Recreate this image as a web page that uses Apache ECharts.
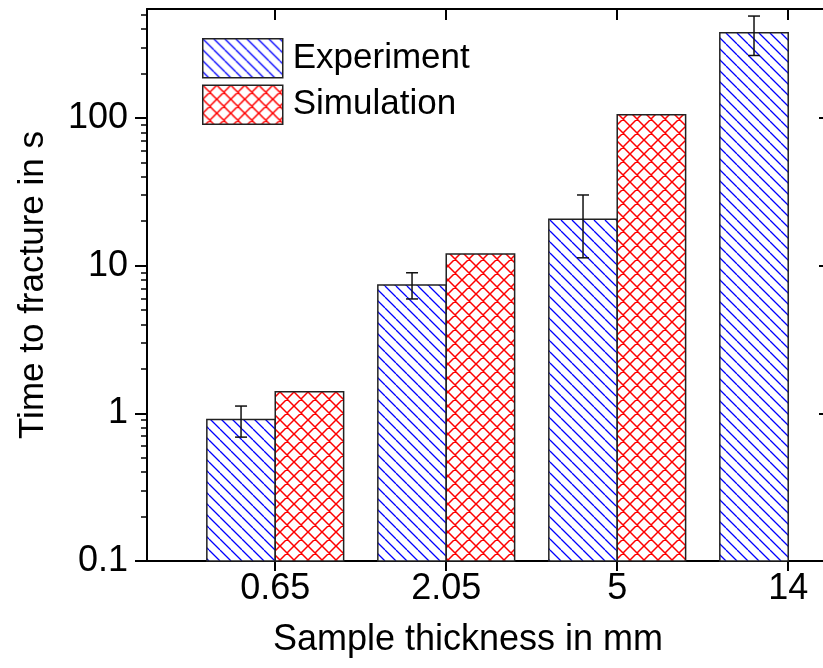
<!DOCTYPE html>
<html>
<head>
<meta charset="utf-8">
<script src="https://cdn.jsdelivr.net/npm/echarts@6/dist/echarts.min.js"></script>
<style>
  html, body { margin: 0; padding: 0; background: #fff; }
  #chart { width: 823px; height: 668px; }
</style>
</head>
<body>
<div id="chart"></div>
<script>
// sample thickness categories (placed at x = 1..4 on a value axis)
const thickness = ['0.65', '2.05', '5', '14'];
const xPos = [1, 2, 3, 4];
const experiment = [0.91, 7.4, 20.6, 377];
const expErrLow = [0.69, 5.95, 11.3, 265];
const expErrHigh = [1.12, 8.95, 30.1, 490];
const simulation = [1.40, 12.0, 105, null];

const yMajor = [0.1, 1, 10, 100];
const yMinor = [0.2, 0.3, 0.4, 0.5, 0.6, 0.7, 0.8, 0.9,
                2, 3, 4, 5, 6, 7, 8, 9,
                20, 30, 40, 50, 60, 70, 80, 90,
                200, 300, 400, 500];

const Y_MIN = 0.1, Y_MAX = 547;
const X_MIN = 0.25, X_MAX = 4.221;
const BAR_UNITS = 0.4; // width of one bar in x units
const FONT = 'Liberation Sans, Arial, sans-serif';

// hatch patterns
function hatch(size, color, width, cross) {
  const c = document.createElement('canvas');
  c.width = size; c.height = size;
  const g = c.getContext('2d');
  g.fillStyle = '#fff';
  g.fillRect(0, 0, size, size);
  g.strokeStyle = color;
  g.lineWidth = width;
  g.beginPath();
  for (let k = -1; k <= 1; k++) {
    g.moveTo(k * size, 0); g.lineTo(k * size + size, size);
    if (cross) { g.moveTo(k * size + size, 0); g.lineTo(k * size, size); }
  }
  g.stroke();
  return c;
}
const bluePat = { image: hatch(11, '#0000ff', 1.3, false), repeat: 'repeat' };
const redPat = { image: hatch(14, '#ff0000', 1.5, true), repeat: 'repeat' };

const expData = xPos.map((x, i) => [x, experiment[i]]);
const simData = xPos.map((x, i) => [x, simulation[i]]).filter(d => d[1] != null);
const errData = xPos.map((x, i) => [x, expErrLow[i], expErrHigh[i]]);

function barRenderer(side, pattern) {
  return function (params, api) {
    const x = api.value(0), v = api.value(1);
    const top = api.coord([x, v]);
    const base = api.coord([x, Y_MIN]);
    const w = api.size([BAR_UNITS, 0])[0];
    return {
      type: 'rect',
      shape: { x: side < 0 ? top[0] - w : top[0], y: top[1], width: w, height: base[1] - top[1] },
      style: { fill: pattern, stroke: '#222', lineWidth: 1.5 }
    };
  };
}

function errRenderer(params, api) {
  const x = api.value(0);
  const w = api.size([BAR_UNITS, 0])[0];
  const lo = api.coord([x, api.value(1)]);
  const hi = api.coord([x, api.value(2)]);
  const cx = lo[0] - w / 2;
  const cap = 6;
  const st = { stroke: '#111', lineWidth: 1.5 };
  return {
    type: 'group',
    children: [
      { type: 'line', shape: { x1: cx, y1: lo[1], x2: cx, y2: hi[1] }, style: st },
      { type: 'line', shape: { x1: cx - cap, y1: lo[1], x2: cx + cap, y2: lo[1] }, style: st },
      { type: 'line', shape: { x1: cx - cap, y1: hi[1], x2: cx + cap, y2: hi[1] }, style: st }
    ]
  };
}

const axisLine = () => ({ show: true, lineStyle: { color: '#000', width: 2 } });
const labelStyle = { color: '#000', fontSize: 36, fontFamily: FONT };

const chart = echarts.init(document.getElementById('chart'), null, { renderer: 'canvas' });
chart.setOption({
  animation: false,
  backgroundColor: '#fff',
  grid: { left: 147, top: 9, right: -3, bottom: 107, outerBoundsMode: 'none' },
  legend: {
    orient: 'vertical', left: 197, top: 33,
    itemWidth: 80, itemHeight: 39, itemGap: 6,
    icon: 'rect',
    textStyle: { color: '#000', fontSize: 35, fontFamily: FONT, padding: [0, 0, 0, 5] },
    data: [
      { name: 'Experiment', itemStyle: { color: bluePat, borderColor: '#222', borderWidth: 1.5 } },
      { name: 'Simulation', itemStyle: { color: redPat, borderColor: '#222', borderWidth: 1.5 } }
    ],
    selectedMode: false
  },
  xAxis: [
    {
      type: 'value', position: 'bottom', min: X_MIN, max: X_MAX,
      axisLine: axisLine(), splitLine: { show: false },
      axisTick: { show: true, customValues: xPos, length: 10, lineStyle: { color: '#000', width: 2 } },
      axisLabel: { customValues: xPos, margin: 10, ...labelStyle,
        formatter: v => thickness[xPos.indexOf(Math.round(v))] || '' }
    },
    {
      type: 'value', position: 'top', min: X_MIN, max: X_MAX,
      axisLine: axisLine(), splitLine: { show: false },
      axisTick: { show: true, inside: true, customValues: xPos, length: 11, lineStyle: { color: '#000', width: 2 } },
      axisLabel: { show: false }
    }
  ],
  yAxis: [
    {
      type: 'log', position: 'left', min: Y_MIN, max: Y_MAX,
      axisLine: axisLine(), splitLine: { show: false },
      axisTick: { show: true, customValues: yMajor, length: 12, lineStyle: { color: '#000', width: 2 } },
      axisLabel: { customValues: yMajor, margin: 19, ...labelStyle,
        formatter: v => String(+v.toPrecision(3)) }
    },
    {
      type: 'log', position: 'left', min: Y_MIN, max: Y_MAX,
      axisLine: { show: false }, splitLine: { show: false },
      axisTick: { show: true, customValues: yMinor, length: 6, lineStyle: { color: '#000', width: 1.5 } },
      axisLabel: { show: false }
    },
    {
      type: 'log', position: 'right', min: Y_MIN, max: Y_MAX,
      axisLine: axisLine(), splitLine: { show: false },
      axisTick: { show: true, inside: true, customValues: yMajor, length: 7, lineStyle: { color: '#000', width: 2 } },
      axisLabel: { show: false }
    }
  ],
  graphic: [
    { type: 'text', x: 33, y: 285, rotation: Math.PI / 2,
      style: { text: 'Time to fracture in s', fill: '#000', font: '35px ' + FONT, align: 'center', verticalAlign: 'middle' } },
    { type: 'text', x: 468, y: 640,
      style: { text: 'Sample thickness in mm', fill: '#000', font: '36px ' + FONT, align: 'center', verticalAlign: 'middle' } }
  ],
  series: [
    { name: 'Experiment', type: 'custom', xAxisIndex: 0, yAxisIndex: 0, data: expData,
      itemStyle: { color: bluePat, borderColor: '#222', borderWidth: 1.5 },
      renderItem: barRenderer(-1, bluePat), encode: { x: 0, y: 1 } },
    { name: 'Simulation', type: 'custom', xAxisIndex: 0, yAxisIndex: 0, data: simData,
      itemStyle: { color: redPat, borderColor: '#222', borderWidth: 1.5 },
      renderItem: barRenderer(1, redPat), encode: { x: 0, y: 1 } },
    { name: 'err', type: 'custom', xAxisIndex: 0, yAxisIndex: 0, data: errData,
      renderItem: errRenderer, encode: { x: 0, y: [1, 2] }, z: 5 }
  ]
});
</script>
</body>
</html>
